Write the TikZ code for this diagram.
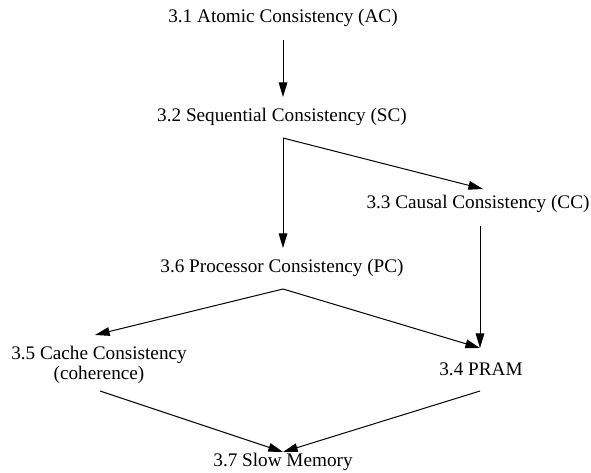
\documentclass[tikz,border=0pt]{standalone}
\usepackage{fontspec}
\setmainfont{Liberation Serif}
\usetikzlibrary{arrows.meta}

\tikzset{every picture/.style={line width=0.75pt}}
\tikzset{model/.style={inner sep=0.75pt,font=\fontsize{14.4}{15}\selectfont,align=center}}
\tikzset{implies/.style={-{Triangle[length=11pt,width=6.5pt]}}}

\begin{document}
\begin{tikzpicture}[x=0.75pt,y=0.75pt,yscale=-1,xscale=1]
\useasboundingbox (0,0) rectangle (591,473);

% Text Node
\node [model] (ac) at (283,18) {3.1 Atomic Consistency (AC)};
% Text Node
\node [model] (sc) at (282,117) {3.2 Sequential Consistency (SC)};
% Text Node
\node [model] (cc) at (478,204) {3.3 Causal Consistency (CC)};
% Text Node
\node [model] (pc) at (282,268) {3.6 Processor Consistency (PC)};
% Text Node
\node [model] (cache) at (99,365) {3.5 Cache Consistency\\(coherence)};
% Text Node
\node [model] (pram) at (481,369) {3.4 PRAM};
% Text Node
\node [model] (slow) at (283,462) {3.7 Slow Memory};

%Connector ends
\coordinate (ac-out) at (283,40);
\coordinate (sc-in) at (283,97);
\coordinate (sc-out) at (283,138);
\coordinate (pc-in) at (283,248);
\coordinate (cc-in) at (483,189);
\coordinate (cc-out) at (480,226);
\coordinate (pram-in) at (480,348);
\coordinate (pc-out) at (283,289);
\coordinate (cache-in) at (95,335);
\coordinate (cache-out) at (100,391);
\coordinate (pram-out) at (480,391);
\coordinate (slow-in) at (283,452);

%Straight Lines
\draw [implies] (ac-out) -- (sc-in);
%Straight Lines
\draw [implies] (sc-out) -- (pc-in);
%Straight Lines
\draw [implies] (sc-out) -- (cc-in);
%Straight Lines
\draw [implies] (cc-out) -- (pram-in);
%Straight Lines
\draw [implies] (pc-out) -- (cache-in);
%Straight Lines
\draw [implies] (pc-out) -- (pram-in);
%Straight Lines
\draw [implies] (cache-out) -- (slow-in);
%Straight Lines
\draw [implies] (pram-out) -- (slow-in);

\end{tikzpicture}
\end{document}
